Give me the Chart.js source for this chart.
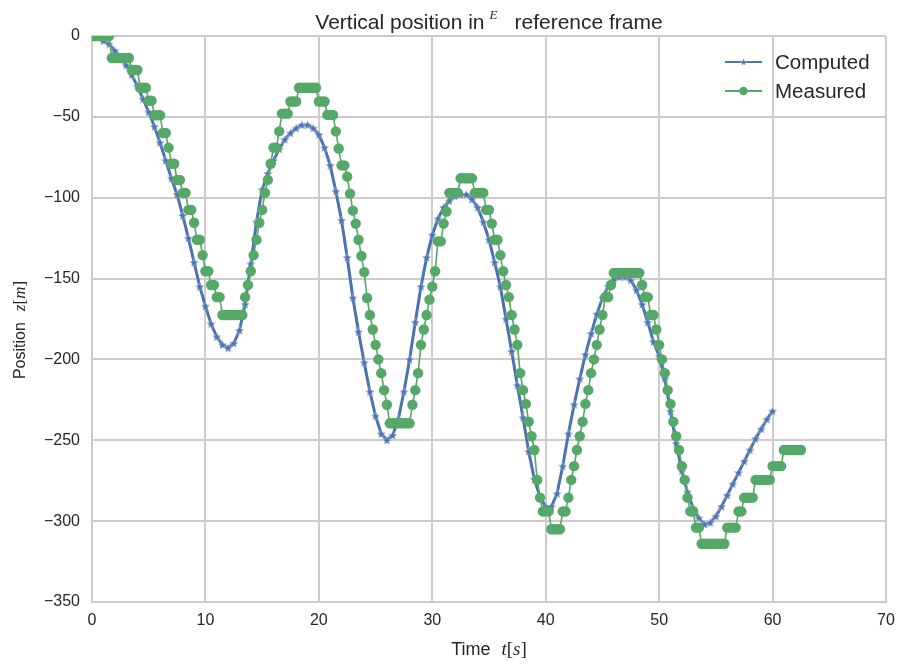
<!DOCTYPE html>
<html>
<head>
<meta charset="utf-8">
<script src="https://cdn.jsdelivr.net/npm/chart.js@4.4.1/dist/chart.umd.min.js"></script>
<style>
  html, body { margin: 0; padding: 0; background: #ffffff; }
  canvas { display: block; }
</style>
</head>
<body>
<canvas id="chart" width="901" height="666"></canvas>
<script>
// sample spacing of each series (seconds)
const computedStep = 0.5;
const measuredStep = 0.25;

// Computed z [m], every 0.5 s from t = 0 to 60
const computedZ = [
  0, -1, -3, -5, -9, -13, -18, -24, -31, -39,
  -47, -56, -66, -77, -88, -98, -111, -125, -140, -155,
  -167, -178, -186, -191, -193, -190, -182, -166, -141, -115,
  -95, -85, -77, -70, -64, -60, -57, -55, -55, -57,
  -61, -69, -80, -96, -114, -137, -162, -183, -202, -220,
  -235, -246, -250, -247, -237, -220, -200, -177, -155, -137,
  -123, -113, -106, -102, -99, -98, -98, -101, -106, -115,
  -126, -140, -155, -175, -195, -216, -236, -257, -274, -285,
  -291, -291, -283, -266, -246, -228, -212, -197, -184, -172,
  -162, -155, -151, -149, -149, -151, -157, -166, -177, -189,
  -198, -212, -232, -252, -269, -282, -292, -298, -302, -301,
  -297, -291, -284, -277, -270, -263, -256, -249, -243, -237,
  -232
];

// Measured z [m], every 0.25 s from t = 0 to 62.5
const measuredZ = [
  0, 0, 0, 0, 0, 0, 0, -13.6, -13.6, -13.6, -13.6, -13.6, -13.6, -13.6, -21, -21, -21, -32, -32, -32,
  -40, -40, -49, -49, -49, -60, -60, -69, -79, -79, -89, -89, -97, -97, -107.5, -107.5, -115.5, -126, -126, -135.5,
  -145.5, -145.5, -154, -154, -161.5, -161.5, -172.5, -172.5, -172.5, -172.5, -172.5, -172.5, -172.5, -172.5, -161.5, -154, -145.5, -135.5, -126, -115.5,
  -107.5, -97, -89, -79, -69, -69, -59, -48, -48, -48, -40.5, -40.5, -40.5, -32, -32, -32, -32, -32, -32, -32,
  -40.5, -40.5, -40.5, -48.8, -48.8, -48.8, -59, -69.6, -80, -80, -87, -97.5, -108, -116, -126, -136, -146, -162, -172.5, -181.5,
  -191, -200, -208.5, -219, -228, -239.5, -239.5, -239.5, -239.5, -239.5, -239.5, -239.5, -239.5, -228, -219, -208.5, -191, -181.5, -172.5, -163,
  -155, -145.5, -127, -127, -116, -108.5, -97, -97, -97, -97, -88, -88, -88, -88, -88, -97, -97, -97, -97, -107.5,
  -107.5, -116, -126, -126, -135.5, -145.5, -154, -161.5, -172.5, -181.5, -191, -208.5, -219, -227.5, -238.5, -247.5, -256, -274.5, -285.5, -294,
  -294, -294, -305, -305, -305, -305, -294, -294, -285.5, -274.5, -266, -256, -247.5, -238.5, -227.5, -219, -208.5, -200, -191, -181.5,
  -172.5, -161.5, -161.5, -154, -146.5, -146.5, -146.5, -146.5, -146.5, -146.5, -146.5, -146.5, -146.5, -146.5, -154, -161.5, -161.5, -172.5, -172.5, -181.5,
  -191, -200, -208.5, -219, -227.5, -238.5, -247.5, -256, -266, -274.5, -285.5, -294, -294, -304, -304, -314, -314, -314, -314, -314,
  -314, -314, -314, -314, -304, -304, -304, -304, -294, -294, -285.5, -285.5, -285.5, -285.5, -274.5, -274.5, -274.5, -274.5, -274.5, -274.5,
  -266, -266, -266, -266, -256, -256, -256, -256, -256, -256, -256
];

const seriesNames = ["Computed", "Measured"];
const xTicks = [0, 10, 20, 30, 40, 50, 60, 70];
const yTicks = [0, -50, -100, -150, -200, -250, -300, -350];

const BLUE = "#4c72b0";
const GREEN = "#55a868";
const TEXT = "#262626";
const GRID = "#cccccc";
const SANS = "'Liberation Sans', Arial, sans-serif";
const SERIF = "'Liberation Serif', 'DejaVu Serif', serif";

// filled five-point star like matplotlib's '*' marker
function makeStar(size, color) {
  const c = document.createElement("canvas");
  c.width = size;
  c.height = size;
  const g = c.getContext("2d");
  const R = size / 2 - 0.6, r = R * 0.42, cx = size / 2, cy = size / 2 + 0.4;
  g.beginPath();
  for (let k = 0; k < 10; k++) {
    const a = -Math.PI / 2 + (k * Math.PI) / 5;
    const rr = k % 2 ? r : R;
    g.lineTo(cx + rr * Math.cos(a), cy + rr * Math.sin(a));
  }
  g.closePath();
  g.fillStyle = color;
  g.fill();
  g.strokeStyle = "rgba(255,255,255,0.45)";
  g.lineWidth = 0.6;
  g.stroke();
  return c;
}
const starImg = makeStar(11, BLUE);
const legendStar = makeStar(9, BLUE);

const computedPts = computedZ.map((z, i) => ({ x: i * computedStep, y: z }));
const measuredPts = measuredZ.map((z, i) => ({ x: i * measuredStep, y: z }));

const minus = (v) => (v < 0 ? "\u2212" + Math.abs(v) : String(v));

// title, axis labels and legend drawn by hand so math parts can be italic
const textPlugin = {
  id: "texts",
  afterDraw(chart) {
    const ctx = chart.ctx;
    const area = chart.chartArea;
    const cx = (area.left + area.right) / 2;
    ctx.save();
    ctx.fillStyle = TEXT;
    ctx.textBaseline = "alphabetic";
    ctx.textAlign = "left";

    // title
    const tFont = "21px " + SANS;
    const eFont = "italic 13px " + SERIF;
    ctx.font = tFont;
    const p1 = "Vertical position in";
    const p2 = "reference frame";
    const w1 = ctx.measureText(p1).width;
    const w2 = ctx.measureText(p2).width;
    ctx.font = eFont;
    const we = ctx.measureText("E").width;
    const total = w1 + 5 + we + 17 + w2;
    let x = cx - total / 2;
    const base = 29;
    ctx.font = tFont;
    ctx.fillText(p1, x, base);
    x += w1 + 5;
    ctx.font = eFont;
    ctx.fillText("E", x, base - 10);
    x += we + 17;
    ctx.font = tFont;
    ctx.fillText(p2, x, base);

    // mixed label: plain word then math "v[u]"
    function mathLabel(word, v, u, size) {
      const parts = [
        { s: word, f: size + "px " + SANS, gap: 11 },
        { s: v, f: "italic " + (size + 1) + "px " + SERIF, gap: 0 },
        { s: "[", f: (size + 1) + "px " + SERIF, gap: 0 },
        { s: u, f: "italic " + (size + 1) + "px " + SERIF, gap: 0 },
        { s: "]", f: (size + 1) + "px " + SERIF, gap: 0 }
      ];
      let w = 0;
      parts.forEach((p) => {
        ctx.font = p.f;
        p.w = ctx.measureText(p.s).width;
        w += p.w + p.gap;
      });
      return { parts, w };
    }
    function drawLabel(lab, x0, y0) {
      let xx = x0 - lab.w / 2;
      lab.parts.forEach((p) => {
        ctx.font = p.f;
        ctx.fillText(p.s, xx, y0);
        xx += p.w + p.gap;
      });
    }

    // x label
    drawLabel(mathLabel("Time", "t", "s", 18), cx, 655);

    // y label (rotated)
    ctx.save();
    ctx.translate(25, 330);
    ctx.rotate(-Math.PI / 2);
    drawLabel(mathLabel("Position", "z", "m", 16), 0, 0);
    ctx.restore();

    // legend
    const rows = [
      { name: seriesNames[0], color: BLUE, y: 62, star: true },
      { name: seriesNames[1], color: GREEN, y: 91, star: false }
    ];
    ctx.font = "20.5px " + SANS;
    ctx.textBaseline = "middle";
    rows.forEach((r) => {
      ctx.strokeStyle = r.color;
      ctx.lineWidth = 1.8;
      ctx.beginPath();
      ctx.moveTo(725, r.y);
      ctx.lineTo(762, r.y);
      ctx.stroke();
      if (r.star) {
        ctx.drawImage(legendStar, 743.5 - legendStar.width / 2, r.y - legendStar.height / 2);
      } else {
        ctx.fillStyle = r.color;
        ctx.beginPath();
        ctx.arc(743.5, r.y, 4.2, 0, Math.PI * 2);
        ctx.fill();
      }
      ctx.fillStyle = TEXT;
      ctx.fillText(r.name, 775, r.y + 1);
    });
    ctx.restore();
  }
};

new Chart(document.getElementById("chart"), {
  type: "line",
  data: {
    datasets: [
      {
        label: seriesNames[1],
        data: measuredPts,
        order: 0,
        borderColor: GREEN,
        borderWidth: 1.6,
        backgroundColor: GREEN,
        pointBackgroundColor: GREEN,
        pointBorderWidth: 0,
        pointRadius: 5.2,
        tension: 0
      },
      {
        label: seriesNames[0],
        data: computedPts,
        order: 1,
        borderColor: BLUE,
        borderWidth: 3,
        pointStyle: starImg,
        pointRadius: 4,
        tension: 0
      }
    ]
  },
  options: {
    responsive: false,
    animation: false,
    events: [],
    layout: { padding: { left: 0, top: 36, right: 15, bottom: 0 } },
    plugins: {
      legend: { display: false },
      title: { display: false },
      tooltip: { enabled: false }
    },
    scales: {
      x: {
        type: "linear",
        min: xTicks[0],
        max: xTicks[xTicks.length - 1],
        afterFit: (s) => { s.height = 64; s.paddingRight = 0; s.paddingLeft = 0; },
        afterBuildTicks: (s) => { s.ticks = xTicks.map((v) => ({ value: v })); },
        ticks: {
          color: TEXT,
          font: { family: SANS, size: 16 },
          padding: 9,
          maxRotation: 0,
          callback: (v) => minus(v)
        },
        grid: { color: GRID, lineWidth: 2, drawTicks: false },
        border: { display: true, color: GRID, width: 2 }
      },
      y: {
        type: "linear",
        min: yTicks[yTicks.length - 1],
        max: yTicks[0],
        afterFit: (s) => { s.width = 92; s.paddingTop = 0; s.paddingBottom = 0; },
        afterBuildTicks: (s) => { s.ticks = yTicks.slice().reverse().map((v) => ({ value: v })); },
        ticks: {
          color: TEXT,
          font: { family: SANS, size: 16 },
          padding: 12,
          callback: (v) => minus(v)
        },
        grid: { color: GRID, lineWidth: 2, drawTicks: false },
        border: { display: true, color: GRID, width: 2 }
      }
    }
  },
  plugins: [textPlugin]
});
</script>
</body>
</html>
